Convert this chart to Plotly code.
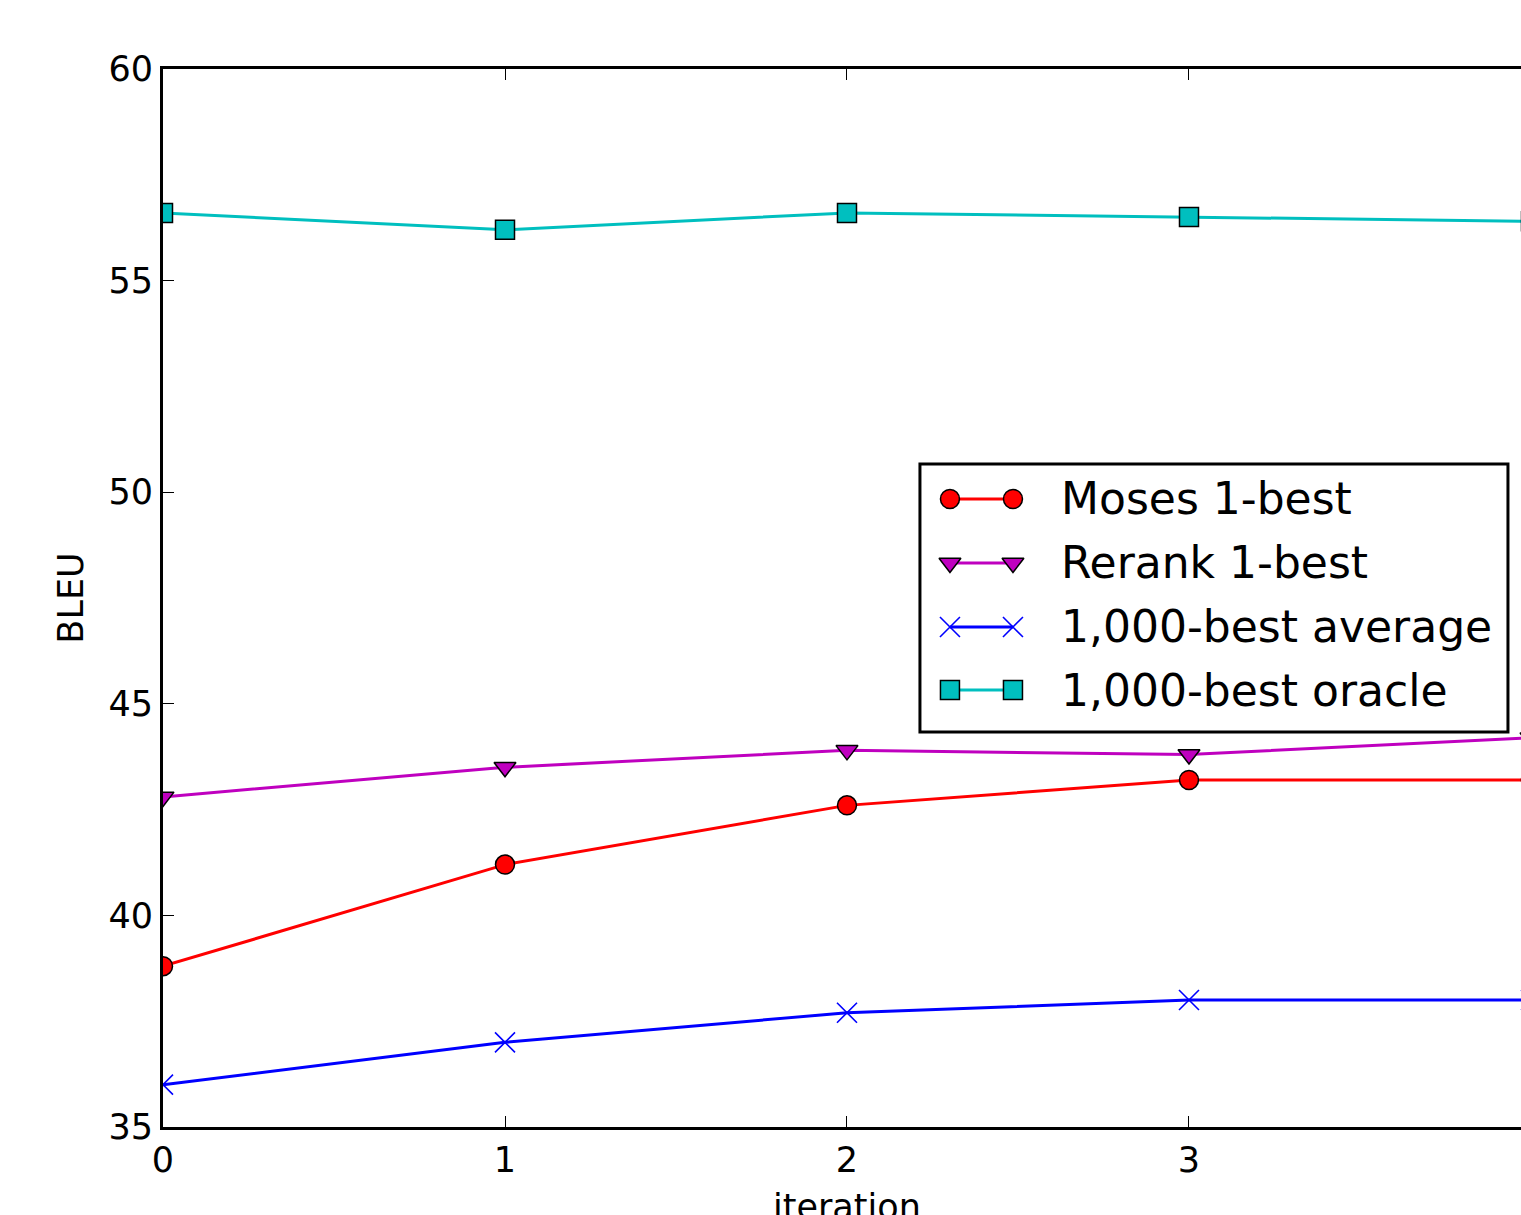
import plotly.graph_objects as go

# ---- data ----
iterations = [0, 1, 2, 3, 4]
moses_1best = [38.8, 41.2, 42.6, 43.2, 43.2]
rerank_1best = [42.8, 43.5, 43.9, 43.8, 44.2]
nbest_average = [36.0, 37.0, 37.7, 38.0, 38.0]
nbest_oracle = [56.6, 56.2, 56.6, 56.5, 56.4]

series_names = ["Moses 1-best", "Rerank 1-best", "1,000-best average", "1,000-best oracle"]
series_values = [moses_1best, rerank_1best, nbest_average, nbest_oracle]
series_colors = ["#ff0000", "#bf00bf", "#0000ff", "#00bfbf"]
series_symbols = ["circle", "triangle-down", "x-thin", "square"]

y_ticks = [35, 40, 45, 50, 55, 60]
x_ticks = [0, 1, 2, 3]
x_title = "iteration"
y_title = "BLEU"

FONT = "DejaVu Sans"
W, H = 1521, 1215
ML, MT, MB = 163, 69, 88

fig = go.Figure()

SIZES = {"circle": 19, "square": 19, "triangle-down": 19, "x-thin": 20}

def marker_style(sym, color):
    if sym == "x-thin":
        return dict(symbol=sym, size=SIZES[sym], color=color, line=dict(color=color, width=1.6))
    return dict(symbol=sym, size=SIZES[sym], color=color, line=dict(color="black", width=1.5))

for name, vals, col, sym in zip(series_names, series_values, series_colors, series_symbols):
    fig.add_trace(go.Scatter(
        x=iterations, y=vals, mode="lines+markers", name=name,
        line=dict(color=col, width=3),
        marker=marker_style(sym, col),
        showlegend=False,
    ))

# ---- custom legend (matplotlib-style: markers at both ends of sample line) ----
leg_x0, leg_x1 = 0.5574, 0.9904
leg_y0, leg_y1 = 0.3733, 0.6267
row_y = [0.5936, 0.5331, 0.4726, 0.4130]
samp_x = [0.5795, 0.6259]
text_x = 0.6598

fig.add_shape(type="rect", xref="paper", yref="paper",
              x0=leg_x0, x1=leg_x1, y0=leg_y0, y1=leg_y1,
              line=dict(color="black", width=3), fillcolor="white", layer="below")

for name, col, sym, ry in zip(series_names, series_colors, series_symbols, row_y):
    fig.add_trace(go.Scatter(
        x=samp_x, y=[ry, ry], xaxis="x2", yaxis="y2", mode="lines+markers",
        line=dict(color=col, width=3), marker=marker_style(sym, col),
        showlegend=False, hoverinfo="skip", cliponaxis=False,
    ))
    fig.add_annotation(x=text_x, y=ry, xref="paper", yref="paper", text=name,
                       showarrow=False, xanchor="left", yanchor="middle",
                       font=dict(family=FONT, size=44, color="black"))

# x-axis title (matplotlib centres it under the full axes, partly cut at the bottom)
fig.add_annotation(x=0.5037, y=-0.0545, xref="paper", yref="paper", text=x_title,
                   showarrow=False, xanchor="center", yanchor="top",
                   font=dict(family=FONT, size=35, color="black"))

axis_common = dict(
    showgrid=False, zeroline=False, showline=True, linecolor="black", linewidth=3,
    ticks="inside", ticklen=11, tickwidth=1.3, tickcolor="black",
    tickfont=dict(family=FONT, size=35, color="black"),
)

fig.update_layout(
    width=W, height=H,
    margin=dict(l=ML, r=0, t=MT, b=MB, pad=0),
    paper_bgcolor="white", plot_bgcolor="white",
    font=dict(family=FONT, color="black"),
    xaxis=dict(range=[0, 3.9708], tickvals=x_ticks, mirror="ticks",
               automargin=False, **axis_common),
    yaxis=dict(range=[35, 60], tickvals=y_ticks, mirror=False,
               title=dict(text=y_title, font=dict(family=FONT, size=35), standoff=15),
               automargin=False, **axis_common),
    xaxis2=dict(overlaying="x", range=[0, 1], visible=False),
    yaxis2=dict(overlaying="y", range=[0, 1], visible=False),
    showlegend=False,
)

fig.write_html(
    "out.html",
    config={"displayModeBar": False},
    post_script="document.body.style.margin='0';document.body.style.overflow='hidden';",
)
